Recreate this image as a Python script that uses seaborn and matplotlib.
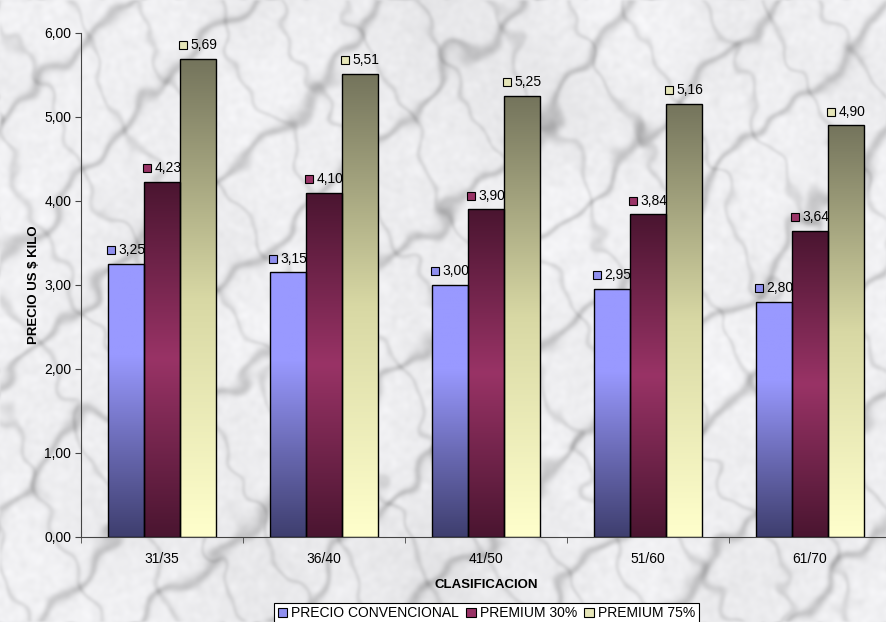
import numpy as np
import pandas as pd
import seaborn as sns
import matplotlib.pyplot as plt
import matplotlib.transforms as mtransforms
from matplotlib.patches import Patch
from matplotlib.colors import LinearSegmentedColormap
from matplotlib.ticker import FuncFormatter, FixedLocator

categories = ['31/35', '36/40', '41/50', '51/60', '61/70']
series = ['PRECIO CONVENCIONAL', 'PREMIUM 30%', 'PREMIUM 75%']
precio_convencional = [3.25, 3.15, 3.00, 2.95, 2.80]
premium_30 = [4.23, 4.10, 3.90, 3.84, 3.64]
premium_75 = [5.69, 5.51, 5.25, 5.16, 4.90]

df = pd.DataFrame({
    'clasificacion': categories * 3,
    'serie': [s for s in series for _ in categories],
    'precio': precio_convencional + premium_30 + premium_75,
})

# gradient colours, bottom -> top
gradients = {
    'PRECIO CONVENCIONAL': ['#3e3e6e', '#6a6ab4', '#9999ff', '#9999ff'],
    'PREMIUM 30%': ['#4a1530', '#993366', '#4a1530'],
    'PREMIUM 75%': ['#ffffcc', '#d8d8a4', '#74745c'],
}
legend_colors = ['#8f8fef', '#993366', '#e6e6b8']

plt.rcParams['font.family'] = ['Liberation Sans', 'DejaVu Sans']

fig = plt.figure(figsize=(8.87, 6.22), dpi=100)

# marble-like backdrop (decoration only)
rng = np.random.default_rng(11)
H, W = 622, 887
yy, xx = np.mgrid[0:H, 0:W]
def smooth(a, s):
    fy = np.fft.fftfreq(a.shape[0])[:, None]
    fx = np.fft.fftfreq(a.shape[1])[None, :]
    g = np.exp(-2 * (np.pi * s) ** 2 * (fx ** 2 + fy ** 2))
    return np.real(np.fft.ifft2(np.fft.fft2(a) * g))
turb1 = smooth(rng.standard_normal((H, W)), 35) * 12 + smooth(rng.standard_normal((H, W)), 10) * 3
turb2 = smooth(rng.standard_normal((H, W)), 30) * 12 + smooth(rng.standard_normal((H, W)), 8) * 3
v1 = np.abs(np.sin(0.035 * (xx * 0.7 + yy * 0.7) + turb1 * 2.5))
v2 = np.abs(np.sin(0.05 * (xx * 0.9 - yy * 0.45) + turb2 * 2.5))
dark = 0.16 * np.exp(-(v1 / 0.18) ** 2) + 0.10 * np.exp(-(v2 / 0.15) ** 2)
dark = smooth(dark, 1.2)
shade = 0.93 - dark + smooth(rng.standard_normal((H, W)), 2.5) * 0.06 \
    + smooth(rng.standard_normal((H, W)), 40) * 1.5
shade = np.clip(shade, 0.62, 0.97)
bg = np.clip(np.dstack([shade, shade, shade * 1.01]), 0, 1)
bg_ax = fig.add_axes([0, 0, 1, 1], zorder=-5)
bg_ax.imshow(bg, aspect='auto', extent=[0, 1, 0, 1], interpolation='bilinear')
bg_ax.axis('off')

ax = fig.add_axes([81 / 887, 1 - 537 / 622, 810 / 887, 504 / 622])
ax.set_facecolor('none')

sns.barplot(data=df, x='clasificacion', y='precio', hue='serie', order=categories,
            hue_order=series, width=2 / 3, gap=0, ax=ax, legend=False,
            edgecolor='black', linewidth=1)

grad = np.linspace(0, 1, 256)[:, None]
for i, (cont, name) in enumerate(zip(ax.containers, series)):
    cmap = LinearSegmentedColormap.from_list(name, gradients[name])
    for bar, val in zip(cont.patches, cont.datavalues):
        x0, w, h = bar.get_x(), bar.get_width(), bar.get_height()
        bar.set_facecolor('none')
        bar.set_zorder(3)
        im = ax.imshow(grad, cmap=cmap, origin='lower', aspect='auto',
                       extent=[x0, x0 + w, 0, h], zorder=2)
        im.set_clip_path(bar)
        cx = x0 + w / 2
        off = mtransforms.ScaledTranslation(-10.5 / 72, 10 / 72, fig.dpi_scale_trans)
        ax.plot([cx], [h], marker='s', markersize=6, markerfacecolor=legend_colors[i],
                markeredgecolor='black', markeredgewidth=0.8, zorder=4, clip_on=False,
                transform=ax.transData + off)
        ax.annotate(f'{val:.2f}'.replace('.', ','), xy=(cx, h), xytext=(-5.5, 10),
                    textcoords='offset points', ha='left', va='center', fontsize=10,
                    color='black', zorder=4)

ax.set_xlim(-0.5, 4.5)
ax.set_ylim(0, 6)
ax.set_yticks(np.arange(0, 6.01, 1))
ax.yaxis.set_major_formatter(FuncFormatter(lambda v, p: f'{v:.2f}'.replace('.', ',')))
ax.xaxis.set_minor_locator(FixedLocator([-0.5, 0.5, 1.5, 2.5, 3.5, 4.5]))
ax.tick_params(axis='x', which='major', length=0, pad=11, labelsize=10)
ax.tick_params(axis='x', which='minor', length=4, direction='out', color='#444444')
ax.tick_params(axis='y', length=4, direction='out', labelsize=10, color='#444444', pad=3)
for s in ['top', 'right']:
    ax.spines[s].set_visible(False)
for s in ['left', 'bottom']:
    ax.spines[s].set_color('#444444')
ax.set_xlabel('CLASIFICACION', fontsize=9.5, fontweight='bold', labelpad=9)
ax.set_ylabel('PRECIO US $ KILO', fontsize=9.5, fontweight='bold', labelpad=3)

handles = [Patch(facecolor=c, edgecolor='black', linewidth=0.8) for c in legend_colors]
leg = fig.legend(handles, series, loc='upper center', bbox_to_anchor=(0.5485, 1 - 603 / 622), ncol=3,
                 fontsize=10, frameon=True, fancybox=False, edgecolor='black',
                 handlelength=0.7, handleheight=0.7, handletextpad=0.3,
                 columnspacing=0.5, borderpad=0.25, borderaxespad=0)
leg.get_frame().set_facecolor('white')
leg.get_frame().set_alpha(1)
leg.get_frame().set_linewidth(0.8)

fig.savefig('out.png', dpi=100)
